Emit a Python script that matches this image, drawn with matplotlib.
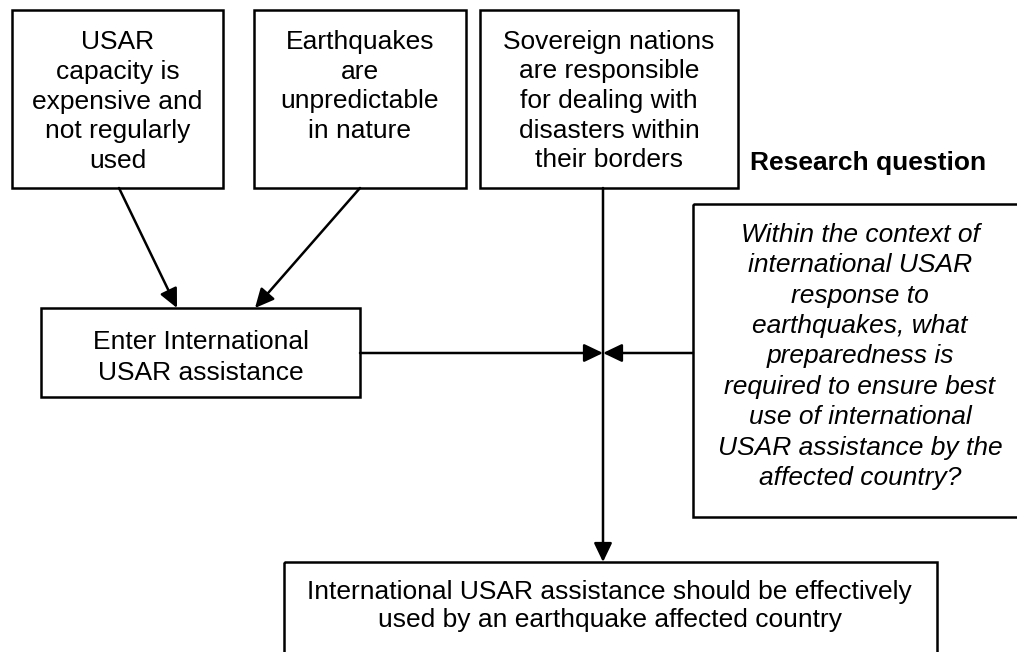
#!/usr/bin/env python

import matplotlib.pyplot as plt
from matplotlib.patches import Rectangle

plt.rcParams['font.family'] = ['Liberation Sans', 'DejaVu Sans']

# box texts
cause_texts = ["USAR\ncapacity is\nexpensive and\nnot regularly\nused",
               "Earthquakes\nare\nunpredictable\nin nature",
               "Sovereign nations\nare responsible\nfor dealing with\ndisasters within\ntheir borders"]
enter_text = "Enter International\nUSAR assistance"
question_title = "Research question"
question_text = ("Within the context of\ninternational USAR\nresponse to\n"
                 "earthquakes, what\npreparedness is\nrequired to ensure best\n"
                 "use of international\nUSAR assistance by the\naffected country?")
goal_text = ("International USAR assistance should be effectively\n"
             "used by an earthquake affected country")

fig = plt.figure(figsize=(10.17, 6.52), dpi=100)
ax = fig.add_axes([0, 0, 1, 1])
ax.set_xlim(0, 1017)
ax.set_ylim(652, 0)
ax.axis('off')

fs = 19
lw = 1.8


def box(x0, y0, x1, y1):
    ax.add_patch(Rectangle((x0, y0), x1 - x0, y1 - y0, fill=False,
                           ec='black', lw=lw, clip_on=False))


def arrow(p0, p1):
    ax.annotate('', xy=p1, xytext=p0,
                arrowprops=dict(arrowstyle='-|>,head_length=1.15,head_width=0.55',
                                mutation_scale=10, lw=lw, color='black',
                                shrinkA=0, shrinkB=0))


# top boxes
tops = [(12, 223, 101.5), (254, 466, 86.5), (480, 738, 101)]
for (x0, x1, yc), t in zip(tops, cause_texts):
    box(x0, 10, x1, 188)
    ax.text((x0 + x1) / 2, yc, t, ha='center', va='center', fontsize=fs,
            linespacing=1.30)

# enter box
box(41, 308, 360, 397)
ax.text(201, 357.5, enter_text, ha='center', va='center', fontsize=fs,
        linespacing=1.38)

# research question
ax.text(868, 163, question_title, ha='center', va='center', fontsize=fs,
        fontweight='bold')
ax.add_patch(Rectangle((693, 204), 400, 313, fill=False, ec='black', lw=lw))
ax.text(860, 356.5, question_text, ha='center', va='center', fontsize=fs,
        style='italic', linespacing=1.34)

# goal box
ax.add_patch(Rectangle((284, 562), 653, 120, fill=False, ec='black', lw=lw))
ax.text(609.5, 606, goal_text, ha='center', va='center', fontsize=fs,
        linespacing=1.17)

# connectors
arrow((119, 188), (177, 308))
arrow((360, 188), (255, 308))
arrow((603, 188), (603, 562))
arrow((360, 353), (603, 353))
arrow((693, 353), (603, 353))

plt.savefig("out.png", dpi=100)
